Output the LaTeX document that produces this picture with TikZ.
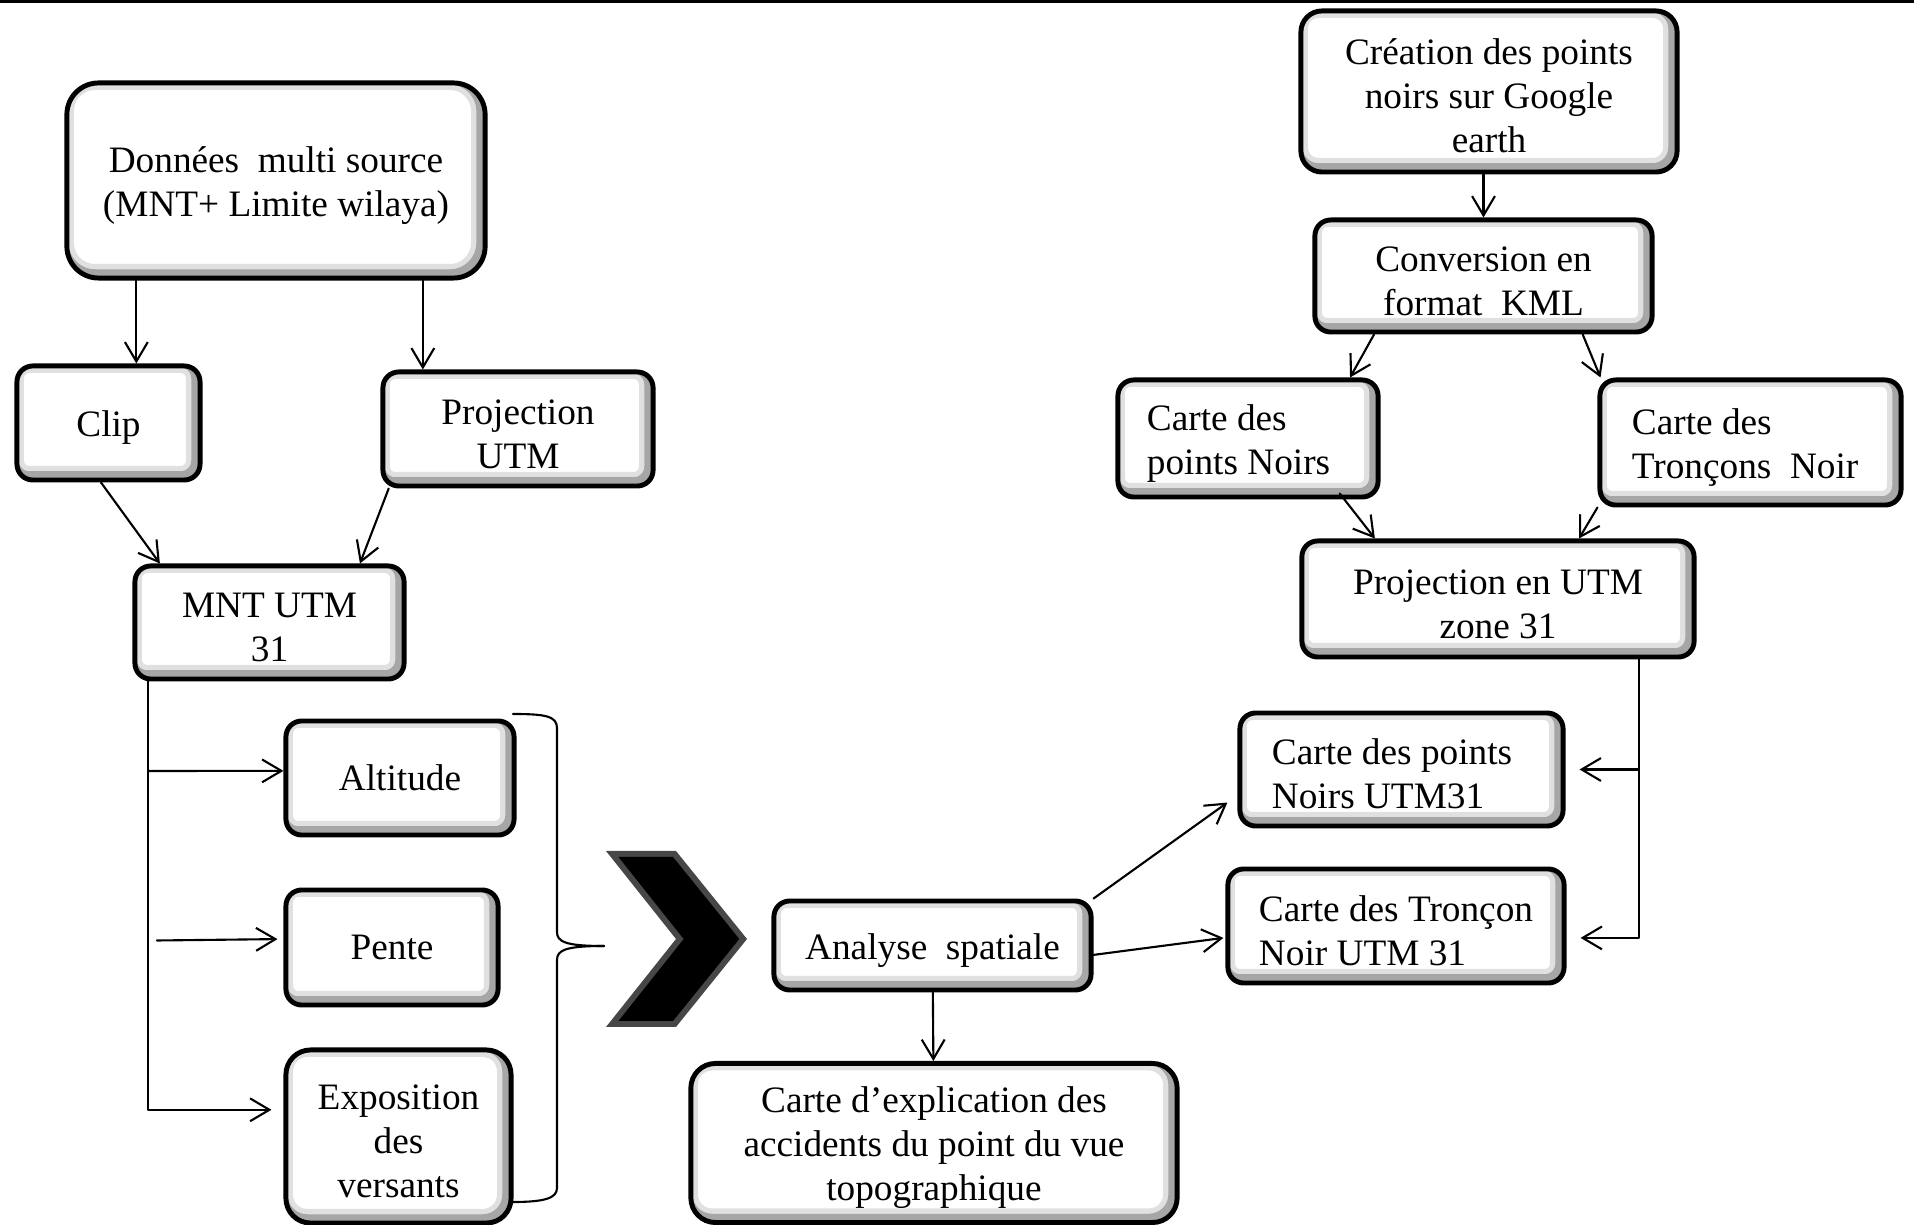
\documentclass[tikz,border=0pt]{standalone}
\usepackage{fontspec}
\setmainfont{Liberation Serif}
\usetikzlibrary{arrows.meta,calc}
\newcommand{\boxfont}{\fontsize{10.6}{12.5}\selectfont}
\newcommand{\tp}{\rule{0pt}{10pt}}

\begin{document}
\begin{tikzpicture}[line cap=round,line join=round,>={Straight Barb[length=5.5pt,width=6.5pt]},x=0.01cm,y=-0.01cm,
  box/.style={draw,line width=1.4pt,rounded corners=#1,fill=white,align=center,inner sep=1pt,font=\boxfont,
    path picture={
      \draw[black!12,line width=6pt,rounded corners=#1] ([shift={(-1pt,1pt)}]path picture bounding box.south west) rectangle ([shift={(-1pt,1pt)}]path picture bounding box.north east);
      \draw[black!35,line width=3pt,rounded corners=#1] ([shift={(-1pt,1pt)}]path picture bounding box.south west) rectangle ([shift={(-1pt,1pt)}]path picture bounding box.north east);}},
  box/.default=4.5pt,
  leftbox/.style={box,align=flush left,text width=#1},
  link/.style={line width=0.6pt}]
\useasboundingbox (0,0) rectangle (1914,1225);
\draw [line width=1pt] (0,1.5) -- (1914,1.5);

% left column
\node[box=9pt,minimum width=4.18cm,minimum height=1.95cm] (donnees) at (276,180.5) {\tp Données\ \ multi source\\(MNT+ Limite wilaya)};
\node[box,minimum width=1.83cm,minimum height=1.14cm] (clip) at (108.5,423) {\tp Clip};
\node[box,minimum width=2.70cm,minimum height=1.14cm] (projutm) at (518,429) {\tp Projection\\UTM};
\node[box,minimum width=2.69cm,minimum height=1.13cm] (mnt) at (269.5,622.5) {\tp MNT UTM\\31};
\node[box,minimum width=2.28cm,minimum height=1.14cm] (altitude) at (400,778) {Altitude};
\node[box,minimum width=2.12cm,minimum height=1.15cm] (pente) at (392,947.5) {Pente};
\node[box=7pt,minimum width=2.25cm,minimum height=1.73cm] (expo) at (398.5,1136.5) {\tp Exposition\\des\\versants};

% middle
\node[box,minimum width=3.17cm,minimum height=0.89cm] (analyse) at (932.5,945.5) {\tp Analyse\ \ spatiale};
\node[box=7pt,minimum width=4.86cm,minimum height=1.59cm] (expl) at (934,1143) {\tp Carte d’explication des\\accidents du point du vue\\topographique};

% right column
\node[box=6pt,minimum width=3.76cm,minimum height=1.61cm] (creation) at (1489,91.5) {\tp Création des points\\noirs sur Google\\earth};
\node[box,minimum width=3.37cm,minimum height=1.12cm] (conversion) at (1483.5,276) {\tp Conversion en\\format\ \ KML};
\node[leftbox=2.02cm,minimum width=2.60cm,minimum height=1.17cm] (ptsnoirs) at (1248,438.5) {\tp Carte des\\points Noirs};
\node[leftbox=2.37cm,minimum width=3.01cm,minimum height=1.25cm] (troncons) at (1750.5,442.5) {\tp Carte des\\Tronçons\ \ Noir};
\node[box,minimum width=3.92cm,minimum height=1.16cm] (projzone) at (1498,599) {\tp Projection en UTM\\zone 31};
\node[leftbox=2.59cm,minimum width=3.23cm,minimum height=1.13cm] (ptsutm) at (1401.5,769.5) {\tp Carte des points\\Noirs UTM31};
\node[box,align=left,minimum width=3.36cm,minimum height=1.14cm] (tronutm) at (1396,926) {\tp Carte des Tronçon\\Noir UTM 31};

% chevron
\fill[black!72] (606,851) -- (676,851) -- (747,939) -- (676,1027) -- (606,1027) -- (676,939) -- cycle;
\fill[black] (618.5,857) -- (673,857) -- (739.3,939) -- (673,1021) -- (618.5,1021) -- (683.7,939) -- cycle;

% brace
\draw [link] (513,714) .. controls (545,714) and (557,716) .. (557,728) -- (557,932) .. controls (557,942) and (566,946) .. (604,946);
\draw [link] (604,946) .. controls (566,946) and (557,950) .. (557,960) -- (557,1188) .. controls (557,1198) and (545,1202) .. (513,1202);

% left arrows
\draw [->,link] ($(donnees.south west)!0.17!(donnees.south east)$) coordinate (d1) -- (d1 |- clip.north);
\draw [->,link] ($(donnees.south west)!0.847!(donnees.south east)$) coordinate (d2) -- (d2 |- projutm.north);
\draw [->,link] ($(clip.south west)!0.46!(clip.south east)$) -- ($(mnt.north west)!0.10!(mnt.north east)$);
\draw [->,link] ($(projutm.south west)!0.03!(projutm.south east)$) -- ($(mnt.north west)!0.83!(mnt.north east)$);
\coordinate (t0) at ($(mnt.south west)!0.056!(mnt.south east)$);
\draw [->,link] (t0) |- ($(expo.north west)!0.35!(expo.south west)+(-12,0)$);
\draw [->,link] (t0 |- altitude.west) ++(0,-7) -- ($(altitude.north west)!0.44!(altitude.south west)$);
\draw [->,link] ($(t0 |- pente.west)+(9,-7)$) -- ($(pente.north west)!0.43!(pente.south west)+(-6,0)$);

% middle arrows
\draw [->,link] (analyse) -- (expl);
\draw [->,link] (analyse.north east) -- ($(ptsutm.north west)!0.78!(ptsutm.south west)+(-10,0)$);
\draw [->,link] ($(analyse.north east)!0.6!(analyse.south east)$) -- ($(tronutm.north west)!0.6!(tronutm.south west)+(-2,0)$);

% right arrows
\draw [->,link] (creation.south -| conversion) -- (conversion.north);
\draw [->,link] ($(conversion.south west)!0.18!(conversion.south east)$) -- ($(ptsnoirs.north west)!0.885!(ptsnoirs.north east)$);
\draw [->,link] ($(conversion.south west)!0.79!(conversion.south east)$) -- ($(troncons.north west)!0.01!(troncons.north east)$);
\draw [->,link] ($(ptsnoirs.south west)!0.846!(ptsnoirs.south east)+(0,-6)$) -- ($(projzone.north west)!0.19!(projzone.north east)$);
\draw [->,link] (troncons.south west) -- ($(projzone.north west)!0.704!(projzone.north east)$);
\coordinate (r0) at ($(projzone.south west)!0.855!(projzone.south east)$);
\draw [->,link] (r0) |- ($(tronutm.north east)!0.6!(tronutm.south east)+(14,0)$);
\draw [->,link] (r0 |- ptsutm.east) -- ($(ptsutm.east)+(14,0)$);
\end{tikzpicture}
\end{document}
